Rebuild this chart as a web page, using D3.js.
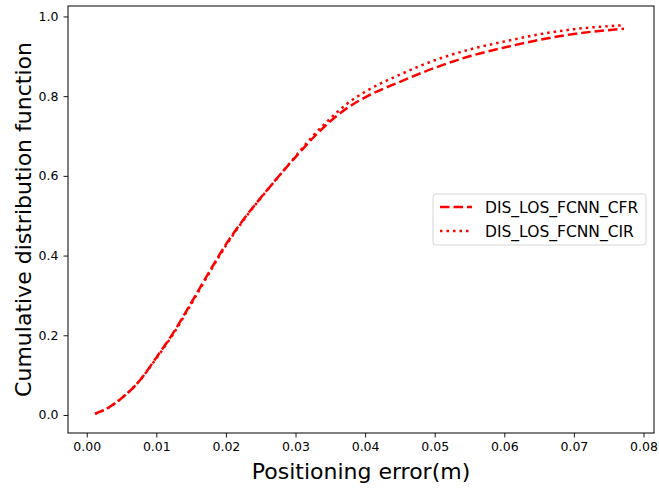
<!DOCTYPE html>
<meta charset="utf-8">
<script src="https://d3js.org/d3.v7.min.js"></script>
<style>
  body { margin: 0; background: #fff; }
  text { font-family: 'DejaVu Sans', sans-serif; fill: #000; }
  .tick text { font-size: 12.5px; }
  .label { font-size: 22px; }
  .legend text { font-size: 15.5px; }
</style>
<div id="chart"></div>
<script>
// positioning error (m) sample points
var errX = [0.0012, 0.003, 0.005, 0.0075, 0.01, 0.0125, 0.015, 0.0175, 0.02, 0.0225, 0.025,
            0.0275, 0.03, 0.0325, 0.035, 0.0375, 0.04, 0.045, 0.05, 0.055, 0.06, 0.065, 0.07, 0.0772];
// CDF values
var cfr = [0.003, 0.017, 0.042, 0.084, 0.144, 0.208, 0.281, 0.356, 0.428, 0.49, 0.545,
           0.597, 0.647, 0.695, 0.737, 0.771, 0.797, 0.836, 0.871, 0.9, 0.922, 0.941, 0.956, 0.969];
var cir = [0.003, 0.017, 0.042, 0.084, 0.142, 0.205, 0.278, 0.353, 0.425, 0.488, 0.544,
           0.597, 0.649, 0.7, 0.744, 0.782, 0.811, 0.854, 0.89, 0.917, 0.937, 0.955, 0.968, 0.978];
var seriesNames = ["DIS_LOS_FCNN_CFR", "DIS_LOS_FCNN_CIR"];
var xTicks = [0, 0.01, 0.02, 0.03, 0.04, 0.05, 0.06, 0.07, 0.08];
var yTicks = [0, 0.2, 0.4, 0.6, 0.8, 1.0];

var W = 659, H = 488;
var margin = {top: 6, right: 5, bottom: 55, left: 68},
    width = W - margin.left - margin.right,
    height = H - margin.top - margin.bottom;

var svg = d3.select("#chart").append("svg")
    .attr("width", W).attr("height", H)
  .append("g")
    .attr("transform", "translate(" + margin.left + "," + margin.top + ")");

var x = d3.scaleLinear().domain([-0.00269, 0.08151]).range([0, width]);
var y = d3.scaleLinear().domain([-0.0452, 1.0262]).range([height, 0]);

// axes
var xAxis = svg.append("g")
    .attr("transform", "translate(0," + height + ")")
    .call(d3.axisBottom(x).tickValues(xTicks).tickFormat(d3.format(".2f")).tickSizeOuter(0).tickSize(4.5).tickPadding(5));
var yAxis = svg.append("g")
    .call(d3.axisLeft(y).tickValues(yTicks).tickFormat(d3.format(".1f")).tickSizeOuter(0).tickSize(4.5).tickPadding(5));
[xAxis, yAxis].forEach(function(a) {
  a.select(".domain").remove();
  a.selectAll(".tick line").attr("stroke", "#000").attr("stroke-width", 0.9);
  a.selectAll(".tick text").attr("font-family", null).attr("font-size", null);
});

// box
svg.append("rect")
    .attr("x", 0).attr("y", 0).attr("width", width).attr("height", height)
    .attr("fill", "none").attr("stroke", "#000").attr("stroke-width", 1);

var line = d3.line()
    .x(function(d) { return x(d[0]); })
    .y(function(d) { return y(d[1]); })
    .curve(d3.curveMonotoneX);

var styles = [
  {data: cfr, dash: "9.5,4"},
  {data: cir, dash: "2.5,4"}
];

styles.forEach(function(s) {
  svg.append("path")
      .datum(errX.map(function(v, i) { return [v, s.data[i]]; }))
      .attr("fill", "none")
      .attr("stroke", "#ff0000")
      .attr("stroke-width", 2.5)
      .attr("stroke-dasharray", s.dash)
      .attr("d", line);
});

// legend
var lg = svg.append("g").attr("class", "legend")
    .attr("transform", "translate(" + (433 - margin.left) + "," + (194 - margin.top) + ")");
lg.append("rect")
    .attr("width", 213).attr("height", 51).attr("rx", 3)
    .attr("fill", "#fff").attr("fill-opacity", 0.8)
    .attr("stroke", "#d6d6d6").attr("stroke-width", 1);
seriesNames.forEach(function(name, i) {
  var yy = 13 + i * 24;
  lg.append("line")
      .attr("x1", 7).attr("x2", 39).attr("y1", yy).attr("y2", yy)
      .attr("stroke", "#ff0000").attr("stroke-width", 2.5)
      .attr("stroke-dasharray", styles[i].dash);
  lg.append("text")
      .attr("x", 52).attr("y", yy).attr("dy", "0.36em")
      .text(name);
});

// axis labels
svg.append("text").attr("class", "label")
    .attr("x", width / 2).attr("y", height + 46)
    .attr("text-anchor", "middle")
    .text("Positioning error(m)");
svg.append("text").attr("class", "label")
    .attr("transform", "translate(" + (-37) + "," + (height / 2) + ") rotate(-90)")
    .attr("text-anchor", "middle")
    .text("Cumulative distribution function");
</script>
